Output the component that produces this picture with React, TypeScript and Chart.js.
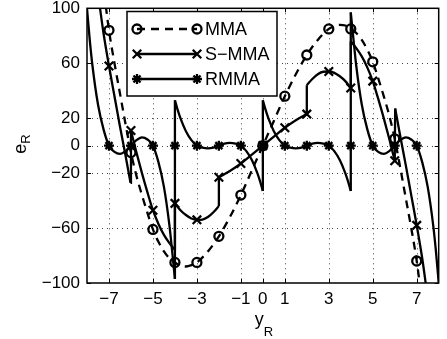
import React, { useEffect, useRef } from 'react';
import { Chart, registerables } from 'chart.js';

Chart.register(...registerables);

// ---- Data ----
const X_TICKS = [-7, -5, -3, -1, 0, 1, 3, 5, 7];
const Y_TICKS = [-100, -60, -20, 0, 20, 60, 100];

const MARKER_X = [-7, -6, -5, -4, -3, -2, -1, 0, 1, 2, 3, 4, 5, 6, 7];
const MMA_MARKERS = [84, -5, -61, -85, -85, -66, -36, 0, 36, 66, 85, 85, 61, 5, -84];
const SMMA_MARKERS = [58, 11, -47, -42, -54, -23, -13, 0, 13, 23, 54, 42, 47, -11, -58];
const RMMA_MARKERS = [0, 0, 0, 0, 0, 0, 0, 0, 0, 0, 0, 0, 0, 0, 0];

const MMA_X = [-7.3, -7, -6.75, -6.5, -6.25, -6, -5.75, -5.5, -5.25, -5, -4.75, -4.5, -4.25, -4, -3.75, -3.5, -3.25, -3, -2.5, -2, -1.5, -1, -0.5, 0, 0.5, 1, 1.5, 2, 2.5, 3, 3.25, 3.5, 3.75, 4, 4.25, 4.5, 4.75, 5, 5.25, 5.5, 5.75, 6, 6.25, 6.5, 6.75, 7, 7.3];
const MMA_Y = [122, 84, 60, 38, 16, -5, -22, -36, -49, -61, -70, -77, -82, -85, -87.5, -88, -87, -85, -77, -66, -52, -36, -18, 0, 18, 36, 52, 66, 77, 85, 87, 88, 87.5, 85, 82, 77, 70, 61, 49, 36, 22, 5, -16, -38, -60, -84, -122];

const SMMA_X = [
  [-7.45, -7.25, -7, -6.75, -6.5, -6.25, -6.02],
  [-6, -5.75, -5.5, -5.25, -5, -4.75, -4.5, -4.25, -4],
  [-4, -3.75, -3.5, -3.25, -3, -2.75, -2.5, -2.25, -2],
  [-2, -1.5, -1, -0.5, 0, 0.5, 1, 1.5, 2],
  [2, 2.25, 2.5, 2.75, 3, 3.25, 3.5, 3.75, 4],
  [4, 4.25, 4.5, 4.75, 5, 5.25, 5.5, 5.75, 6],
  [6.02, 6.25, 6.5, 6.75, 7, 7.25, 7.45],
];
const SMMA_Y = [
  [105, 82, 58, 36, 14, -7, -27],
  [11, -5, -20, -34, -47, -57, -65, -71, -76],
  [-42, -47, -50.5, -53, -54, -53.8, -52, -48.5, -44],
  [-23, -18.5, -13, -6.5, 0, 6.5, 13, 18.5, 23],
  [44, 48.5, 52, 53.8, 54, 53, 50.5, 47, 42],
  [76, 71, 65, 57, 47, 34, 20, 5, -11],
  [27, 7, -14, -36, -58, -82, -105],
];

const RMMA_X = [
  [-8, -7.875, -7.75, -7.5, -7.25, -7, -6.75, -6.5, -6.25, -6, -5.75, -5.5, -5.25, -5, -4.75, -4.5, -4.25, -4.125, -4],
  [-4, -3.875, -3.75, -3.5, -3.25, -3, -2.75, -2.5, -2.25, -2, -1.75, -1.5, -1.25, -1, -0.75, -0.5, -0.25, -0.125, 0],
  [0, 0.125, 0.25, 0.5, 0.75, 1, 1.25, 1.5, 1.75, 2, 2.25, 2.5, 2.75, 3, 3.25, 3.5, 3.75, 3.875, 4],
  [4, 4.125, 4.25, 4.5, 4.75, 5, 5.25, 5.5, 5.75, 6, 6.25, 6.5, 6.75, 7, 7.25, 7.5, 7.75, 7.875, 8],
];
const RMMA_Y = [
  [100, 77, 58, 30, 12, 0, -4.5, -6, -4, 0, 4, 6, 4.5, 0, -12, -30, -58, -77, -97],
  [33, 26, 20, 10.5, 4, 0, -1.5, -2, -1.5, 0, 1.5, 2, 1.5, 0, -4, -10.5, -20, -26, -33],
  [33, 26, 20, 10.5, 4, 0, -1.5, -2, -1.5, 0, 1.5, 2, 1.5, 0, -4, -10.5, -20, -26, -33],
  [97, 77, 58, 30, 12, 0, -4.5, -6, -4, 0, 4, 6, 4.5, 0, -12, -30, -58, -77, -100],
];

const LEGEND_NAMES = ['MMA', 'S\u2212MMA', 'RMMA'];
const X_LABEL = ['y', 'R'];
const Y_LABEL = ['e', 'R'];

// ---- Styling ----
const FONT = "'Liberation Sans', Arial, Helvetica, sans-serif";
const MARKER_STYLES = ['circle', 'crossRot', 'star'];
const MARKER_RADII = [4.5, 6, 5];
const LW = 2.3;

function fmt(v: number): string {
  return v < 0 ? '\u2212' + Math.abs(v) : String(v);
}

function drawMarker(ctx: CanvasRenderingContext2D, style: string, x: number, y: number, r: number) {
  ctx.beginPath();
  if (style === 'circle') {
    ctx.arc(x, y, r, 0, Math.PI * 2);
  } else {
    const d = r * Math.SQRT1_2;
    ctx.moveTo(x - d, y - d); ctx.lineTo(x + d, y + d);
    ctx.moveTo(x - d, y + d); ctx.lineTo(x + d, y - d);
    if (style === 'star') {
      ctx.moveTo(x - r, y); ctx.lineTo(x + r, y);
      ctx.moveTo(x, y - r); ctx.lineTo(x, y + r);
    }
  }
  ctx.stroke();
}

const framePlugin = {
  id: 'matlabFrame',
  beforeDatasetsDraw(chart: any) {
    const { ctx, chartArea: a, scales } = chart;
    const xs = scales.x, ys = scales.y;
    ctx.save();
    ctx.strokeStyle = '#444';
    ctx.lineWidth = 1;
    ctx.setLineDash([1, 4]);
    X_TICKS.forEach((v) => {
      const px = Math.round(xs.getPixelForValue(v)) + 0.5;
      ctx.beginPath(); ctx.moveTo(px, a.top); ctx.lineTo(px, a.bottom); ctx.stroke();
    });
    Y_TICKS.forEach((v) => {
      if (v === -100 || v === 100) return;
      const py = Math.round(ys.getPixelForValue(v)) + 0.5;
      ctx.beginPath(); ctx.moveTo(a.left, py); ctx.lineTo(a.right, py); ctx.stroke();
    });
    ctx.restore();
  },
  afterDraw(chart: any) {
    const { ctx, chartArea: a, scales } = chart;
    const xs = scales.x, ys = scales.y;
    ctx.save();
    ctx.setLineDash([]);
    ctx.strokeStyle = '#000';
    ctx.lineWidth = 1.5;
    ctx.strokeRect(a.left, a.top, a.right - a.left, a.bottom - a.top);
    const tl = 4;
    ctx.lineWidth = 1;
    X_TICKS.forEach((v) => {
      const px = Math.round(xs.getPixelForValue(v)) + 0.5;
      ctx.beginPath();
      ctx.moveTo(px, a.bottom); ctx.lineTo(px, a.bottom - tl);
      ctx.moveTo(px, a.top); ctx.lineTo(px, a.top + tl);
      ctx.stroke();
    });
    Y_TICKS.forEach((v) => {
      const py = Math.round(ys.getPixelForValue(v)) + 0.5;
      ctx.beginPath();
      ctx.moveTo(a.left, py); ctx.lineTo(a.left + tl, py);
      ctx.moveTo(a.right, py); ctx.lineTo(a.right - tl, py);
      ctx.stroke();
    });

    // Legend
    const lx = 127, ly = 11.5, lw = 150, lh = 84.5;
    ctx.fillStyle = '#fff';
    ctx.fillRect(lx, ly, lw, lh);
    ctx.lineWidth = 1.5;
    ctx.strokeRect(lx, ly, lw, lh);
    const rows = [29, 54, 79];
    ctx.font = `18px ${FONT}`;
    ctx.textBaseline = 'middle';
    ctx.textAlign = 'left';
    LEGEND_NAMES.forEach((name, i) => {
      const y = rows[i];
      ctx.lineWidth = LW;
      ctx.setLineDash(i === 0 ? [8, 6] : []);
      ctx.beginPath(); ctx.moveTo(137, y); ctx.lineTo(197, y); ctx.stroke();
      ctx.setLineDash([]);
      drawMarker(ctx, MARKER_STYLES[i], 137, y, MARKER_RADII[i]);
      drawMarker(ctx, MARKER_STYLES[i], 197, y, MARKER_RADII[i]);
      ctx.fillStyle = '#000';
      ctx.fillText(name, 205, y + 1);
    });

    // Axis labels with subscripts
    ctx.fillStyle = '#000';
    ctx.textBaseline = 'alphabetic';
    ctx.font = `18px ${FONT}`;
    const xw = ctx.measureText(X_LABEL[0]).width;
    const xcx = (a.left + a.right) / 2 - 8;
    ctx.fillText(X_LABEL[0], xcx, 325);
    ctx.font = `13px ${FONT}`;
    ctx.fillText(X_LABEL[1], xcx + xw, 336);

    ctx.save();
    ctx.translate(26, (a.top + a.bottom) / 2 + 8);
    ctx.rotate(-Math.PI / 2);
    ctx.font = `18px ${FONT}`;
    const ew = ctx.measureText(Y_LABEL[0]).width;
    ctx.fillText(Y_LABEL[0], 0, 0);
    ctx.font = `13px ${FONT}`;
    ctx.fillText(Y_LABEL[1], ew, 4);
    ctx.restore();
    ctx.restore();
  },
};

function pts(xs: number[], ys: number[]) {
  return xs.map((x, i) => ({ x, y: ys[i] }));
}

function lineDs(data: any[], dash: number[], mono = true) {
  return {
    type: 'line',
    data,
    showLine: true,
    borderColor: '#000',
    borderWidth: LW,
    borderDash: dash,
    pointRadius: 0,
    pointHoverRadius: 0,
    fill: false,
    tension: mono ? 0.4 : 0,
    cubicInterpolationMode: mono ? 'monotone' : 'default',
  };
}

function markerDs(ys: number[], style: string, r: number) {
  return {
    type: 'line',
    data: pts(MARKER_X, ys),
    showLine: false,
    pointStyle: style,
    pointRadius: r,
    pointHoverRadius: r,
    pointBorderWidth: LW,
    pointBorderColor: '#000',
    pointBackgroundColor: 'rgba(0,0,0,0)',
    borderColor: '#000',
  };
}

function piecewise(xsList: number[][], ysList: number[][]) {
  const out: any[] = [];
  xsList.forEach((xs, i) => {
    out.push(lineDs(pts(xs, ysList[i]), []));
    if (i + 1 < xsList.length) {
      const a = { x: xs[xs.length - 1], y: ysList[i][ysList[i].length - 1] };
      const b = { x: xsList[i + 1][0], y: ysList[i + 1][0] };
      out.push(lineDs([a, b], [], false));
    }
  });
  return out;
}

export default function App() {
  const ref = useRef<HTMLCanvasElement | null>(null);

  useEffect(() => {
    if (!ref.current) return;
    const datasets: any[] = [
      lineDs(pts(MMA_X, MMA_Y), [8, 6]),
      ...piecewise(SMMA_X, SMMA_Y),
      ...piecewise(RMMA_X, RMMA_Y),
      markerDs(MMA_MARKERS, MARKER_STYLES[0], MARKER_RADII[0]),
      markerDs(SMMA_MARKERS, MARKER_STYLES[1], MARKER_RADII[1]),
      markerDs(RMMA_MARKERS, MARKER_STYLES[2], MARKER_RADII[2]),
    ];
    const tickFont = { family: FONT, size: 17 };
    const chart = new Chart(ref.current, {
      type: 'line',
      data: { datasets },
      options: {
        responsive: false,
        animation: false,
        devicePixelRatio: 1,
        events: [],
        layout: { padding: { left: 0, right: 1, top: 8, bottom: 0 } },
        plugins: { legend: { display: false }, tooltip: { enabled: false } },
        scales: {
          x: {
            type: 'linear',
            min: -8,
            max: 8,
            afterBuildTicks: (s: any) => { s.ticks = X_TICKS.map((v) => ({ value: v })); },
            afterFit: (s: any) => { s.height = 56; s.paddingLeft = 0; s.paddingRight = 0; },
            grid: { display: false, drawTicks: false },
            border: { display: false },
            ticks: {
              color: '#000',
              font: tickFont,
              padding: 6,
              maxRotation: 0,
              autoSkip: false,
              callback: (v: any) => fmt(Number(v)),
            },
          },
          y: {
            type: 'linear',
            min: -100,
            max: 100,
            afterBuildTicks: (s: any) => { s.ticks = Y_TICKS.map((v) => ({ value: v })); },
            afterFit: (s: any) => { s.width = 87; s.paddingTop = 0; s.paddingBottom = 0; },
            grid: { display: false, drawTicks: false },
            border: { display: false },
            ticks: {
              color: '#000',
              font: tickFont,
              padding: 7,
              autoSkip: false,
              callback: (v: any) => fmt(Number(v)),
            },
          },
        },
      } as any,
      plugins: [framePlugin],
    } as any);
    return () => chart.destroy();
  }, []);

  return (
    <div style={{ position: 'absolute', left: 0, top: 0, width: 447, height: 339, background: '#fff' }}>
      <canvas ref={ref} width={447} height={339} style={{ display: 'block' }} />
    </div>
  );
}
